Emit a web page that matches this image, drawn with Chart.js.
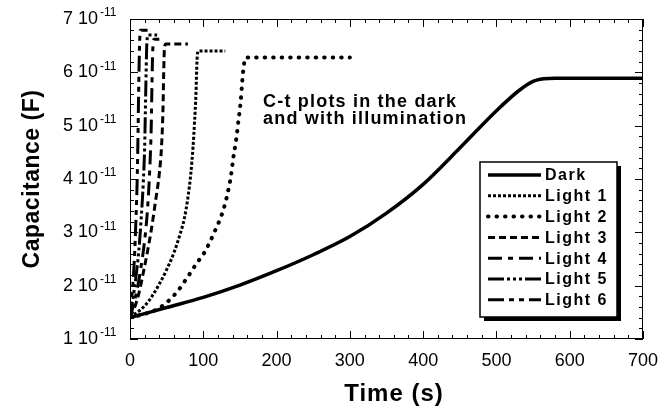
<!DOCTYPE html>
<html>
<head>
<meta charset="utf-8">
<title>C-t plots</title>
<script src="https://cdn.jsdelivr.net/npm/chart.js@4.4.0/dist/chart.umd.min.js"></script>
<style>
  html, body { margin: 0; padding: 0; background: #fff; }
  canvas { display: block; }
</style>
</head>
<body>
<canvas id="ctChart" width="663" height="411"></canvas>
<script>

// time axis (s) and capacitance axis (F)
const xTicks = [0, 100, 200, 300, 400, 500, 600, 700];
const yTicks = [1e-11, 2e-11, 3e-11, 4e-11, 5e-11, 6e-11, 7e-11];
const yTickMantissa = ['1', '2', '3', '4', '5', '6', '7'];
const yTickExponent = '-11';

// Dark
const darkTime = [0, 50, 100, 150, 200, 250, 300, 350, 400, 450, 500, 530, 550, 565, 580, 600, 700];
const darkCap = [1.40e-11, 1.59e-11, 1.78e-11, 2.01e-11, 2.28e-11, 2.58e-11, 2.92e-11, 3.36e-11, 3.90e-11, 4.58e-11,
    5.28e-11, 5.65e-11, 5.83e-11, 5.88e-11, 5.89e-11, 5.89e-11, 5.89e-11];

// Light 1
const light1Time = [0, 10, 20, 30, 40, 50, 60, 68, 74, 79, 83, 86, 88, 90, 91, 92, 94, 130];
const light1Cap = [1.40e-11, 1.50e-11, 1.62e-11, 1.80e-11, 2.03e-11, 2.30e-11, 2.62e-11, 2.95e-11, 3.25e-11, 3.65e-11,
    4.10e-11, 4.60e-11, 5.05e-11, 5.60e-11, 6.05e-11, 6.35e-11, 6.40e-11, 6.40e-11];

// Light 2
const light2Time = [0, 20, 34, 48, 64, 79, 91, 101, 109, 116, 123, 128, 132, 138, 141, 145, 148, 151, 153, 155, 158, 300];
const light2Cap = [1.40e-11, 1.47e-11, 1.54e-11, 1.66e-11, 1.88e-11, 2.17e-11, 2.42e-11, 2.61e-11, 2.82e-11, 3.03e-11,
    3.25e-11, 3.45e-11, 3.66e-11, 4.08e-11, 4.40e-11, 4.75e-11, 5.10e-11, 5.45e-11, 5.80e-11, 6.10e-11, 6.28e-11, 6.28e-11];

// Light 3
const light3Time = [0, 6, 12, 19, 24, 29, 35, 40, 43, 45, 46, 47, 49, 79];
const light3Cap = [1.40e-11, 1.58e-11, 1.85e-11, 2.30e-11, 2.65e-11, 3.04e-11, 3.60e-11, 4.10e-11, 4.60e-11, 5.30e-11,
    6.00e-11, 6.45e-11, 6.53e-11, 6.53e-11];

// Light 4
const light4Time = [0, 5, 10, 15, 20, 24, 27, 29, 30, 31, 33, 40];
const light4Cap = [1.40e-11, 1.65e-11, 1.95e-11, 2.35e-11, 2.85e-11, 3.45e-11, 4.20e-11, 5.00e-11, 5.80e-11, 6.40e-11,
    6.62e-11, 6.62e-11];

// Light 5
const light5Time = [0, 4, 8, 12, 15, 18, 20, 21, 22, 23, 25, 37];
const light5Cap = [1.40e-11, 1.75e-11, 2.15e-11, 2.65e-11, 3.20e-11, 3.90e-11, 4.60e-11, 5.30e-11, 6.00e-11, 6.55e-11,
    6.70e-11, 6.70e-11];

// Light 6
const light6Time = [0, 2, 4, 6, 8, 10, 11, 12, 13, 14, 24];
const light6Cap = [1.40e-11, 1.70e-11, 2.05e-11, 2.50e-11, 3.20e-11, 4.10e-11, 4.90e-11, 5.80e-11, 6.50e-11, 6.79e-11,
    6.79e-11];

const seriesNames = ['Dark', 'Light 1', 'Light 2', 'Light 3', 'Light 4', 'Light 5', 'Light 6'];

const FONT = '"Liberation Sans", Arial, Helvetica, sans-serif';

function toPoints(times, caps) {
    return times.map((t, i) => ({ x: t, y: caps[i] }));
}

function makeSeries(label, times, caps, style) {
    return Object.assign({
        label: label,
        data: toPoints(times, caps),
        borderColor: '#000',
        backgroundColor: '#000',
        borderWidth: 3,
        pointRadius: 0,
        fill: false,
        cubicInterpolationMode: 'monotone'
    }, style);
}

const datasets = [
    makeSeries(seriesNames[0], darkTime, darkCap, { borderWidth: 3.5, borderDash: [] }),
    makeSeries(seriesNames[1], light1Time, light1Cap, { borderDash: [3, 2] }),
    makeSeries(seriesNames[2], light2Time, light2Cap, { borderWidth: 4, borderDash: [0.5, 8], borderCapStyle: 'round' }),
    makeSeries(seriesNames[3], light3Time, light3Cap, { borderDash: [7, 4] }),
    makeSeries(seriesNames[4], light4Time, light4Cap, { borderDash: [14, 6, 5, 6] }),
    makeSeries(seriesNames[5], light5Time, light5Cap, { borderDash: [16, 3, 3, 3, 3, 3, 3, 3] }),
    makeSeries(seriesNames[6], light6Time, light6Cap, { borderDash: [16, 5, 5, 5, 5, 5] })
];

// frame with inward ticks on all four sides, tick labels and axis titles
const axesDecor = {
    id: 'axesDecor',
    afterDraw(chart) {
        const { ctx, chartArea: a } = chart;
        const x = chart.scales.x;
        const y = chart.scales.y;
        ctx.save();
        ctx.strokeStyle = '#000';
        ctx.lineWidth = 1;
        ctx.strokeRect(a.left + 0.5, a.top + 0.5, a.right - a.left - 1, a.bottom - a.top - 1);

        ctx.beginPath();
        // x: minor every 20 s
        for (let i = 0; i <= 35; i++) {
            const px = Math.round(x.getPixelForValue(i * 20)) + 0.5;
            const len = i % 5 === 0 ? 8 : 4;
            ctx.moveTo(px, a.bottom);
            ctx.lineTo(px, a.bottom - len);
            ctx.moveTo(px, a.top);
            ctx.lineTo(px, a.top + len);
        }
        // y: minor every 0.2e-11 F
        for (let i = 0; i <= 30; i++) {
            const py = Math.round(y.getPixelForValue(1e-11 + i * 0.2e-11)) + 0.5;
            const len = i % 5 === 0 ? 8 : 4;
            ctx.moveTo(a.left, py);
            ctx.lineTo(a.left + len, py);
            ctx.moveTo(a.right, py);
            ctx.lineTo(a.right - len, py);
        }
        ctx.stroke();

        ctx.fillStyle = '#000';
        ctx.font = '18px ' + FONT;
        ctx.textAlign = 'center';
        ctx.textBaseline = 'middle';
        xTicks.forEach(t => {
            ctx.fillText(String(t), x.getPixelForValue(t), 361);
        });

        yTicks.forEach((v, i) => {
            const py = y.getPixelForValue(v);
            ctx.font = '18px ' + FONT;
            ctx.textAlign = 'right';
            ctx.fillText(yTickMantissa[i] + ' 10', 98, py);
            ctx.font = '12px ' + FONT;
            ctx.textAlign = 'left';
            ctx.fillText(yTickExponent, 100, py - 6);
        });

        ctx.font = 'bold 24px ' + FONT;
        ctx.letterSpacing = '1px';
        ctx.textAlign = 'center';
        ctx.fillText('Time (s)', 394, 394);

        ctx.translate(33, (a.top + a.bottom) / 2);
        ctx.rotate(-Math.PI / 2);
        ctx.font = 'bold 23px ' + FONT;
        ctx.letterSpacing = '0.5px';
        ctx.fillText('Capacitance (F)', 0, 0);
        ctx.restore();
    }
};

// text note inside the plot
const plotNote = {
    id: 'plotNote',
    afterDraw(chart) {
        const ctx = chart.ctx;
        ctx.save();
        ctx.fillStyle = '#000';
        ctx.font = 'bold 18px ' + FONT;
        ctx.letterSpacing = '1.2px';
        ctx.textAlign = 'left';
        ctx.textBaseline = 'alphabetic';
        ctx.fillText('C-t plots in the dark', 263, 107);
        ctx.fillText('and with illumination', 263, 124);
        ctx.restore();
    }
};

// boxed legend with drop shadow
const boxLegend = {
    id: 'boxLegend',
    afterDraw(chart) {
        const ctx = chart.ctx;
        const bx = 480, by = 162, bw = 137, bh = 155;
        ctx.save();
        ctx.fillStyle = '#000';
        ctx.fillRect(bx + 4, by + 4, bw, bh);
        ctx.fillStyle = '#fff';
        ctx.fillRect(bx, by, bw, bh);
        ctx.strokeStyle = '#000';
        ctx.lineWidth = 1.5;
        ctx.strokeRect(bx, by, bw, bh);

        chart.data.datasets.forEach((ds, i) => {
            const ry = 175 + i * 20.8;
            ctx.beginPath();
            ctx.setLineDash(ds.borderDash || []);
            ctx.lineCap = ds.borderCapStyle || 'butt';
            ctx.lineWidth = ds.borderWidth;
            ctx.moveTo(488, ry);
            ctx.lineTo(541, ry);
            ctx.stroke();
            ctx.setLineDash([]);
            ctx.fillStyle = '#000';
            ctx.font = 'bold 16px ' + FONT;
            ctx.letterSpacing = '1.5px';
            ctx.textAlign = 'left';
            ctx.textBaseline = 'middle';
            ctx.fillText(ds.label, 545, ry + 1);
        });
        ctx.restore();
    }
};

new Chart(document.getElementById('ctChart'), {
    type: 'line',
    data: { datasets: datasets },
    options: {
        responsive: false,
        animation: false,
        layout: { padding: { left: 130, right: 20, top: 19, bottom: 72 } },
        scales: {
            x: { type: 'linear', min: 0, max: 700, display: false },
            y: { type: 'linear', min: 1e-11, max: 7e-11, display: false }
        },
        plugins: {
            legend: { display: false },
            tooltip: { enabled: false }
        }
    },
    plugins: [axesDecor, plotNote, boxLegend]
});
</script>
</body>
</html>
